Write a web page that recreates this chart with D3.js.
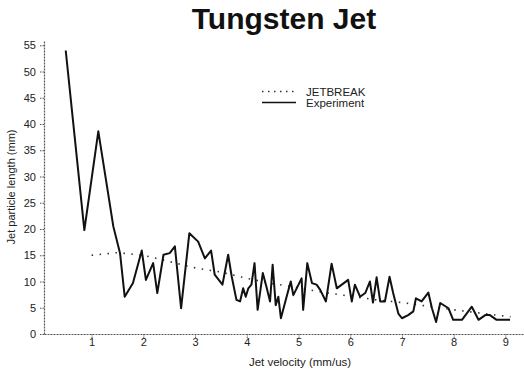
<!DOCTYPE html>
<html><head><meta charset="utf-8">
<script src="https://cdn.jsdelivr.net/npm/d3@7"></script>
<style>body{margin:0;background:#fff}svg{display:block}text{font-family:"Liberation Sans",Arial,sans-serif}</style>
</head><body><svg id="c" width="524" height="372"></svg>
<script>
const xTicks = [1,2,3,4,5,6,7,8,9];
const yTicks = [0,5,10,15,20,25,30,35,40,45,50,55];
const seriesNames = ["JETBREAK","Experiment"];
const expVelocity = [0.50,0.86,1.13,1.42,1.55,1.64,1.80,1.97,2.05,2.19,2.27,2.39,2.51,2.61,2.73,2.89,3.06,3.19,3.31,3.38,3.53,3.64,3.71,3.80,3.87,3.93,3.98,4.03,4.09,4.15,4.21,4.31,4.38,4.45,4.50,4.56,4.61,4.66,4.77,4.85,4.90,5.06,5.09,5.17,5.26,5.35,5.42,5.53,5.64,5.74,5.96,6.03,6.09,6.19,6.29,6.38,6.44,6.51,6.58,6.67,6.76,6.83,6.93,7.00,7.12,7.22,7.27,7.38,7.51,7.58,7.66,7.74,7.90,7.99,8.16,8.35,8.48,8.61,8.70,8.83,9.09];
const expLength = [54,19.8,38.6,20.5,15.4,7.1,9.7,15.9,10.3,13.5,7.8,15.1,15.4,16.7,4.9,19.2,17.6,14.4,15.9,11.3,9.4,15.1,10.9,6.5,6.2,8.7,7.1,8.7,9.4,13.5,4.6,11.6,9.0,6.2,13.2,5.5,7.1,3.0,7.1,10.0,7.4,10.6,4.6,13.5,9.7,9.4,8.4,6.2,13.4,8.7,10.3,6.2,9.4,7.1,7.8,10.0,6.0,10.8,6.2,6.2,10.9,7.8,3.9,3.0,3.6,4.3,6.8,6.2,7.9,4.9,2.3,5.9,4.9,2.7,2.7,5.2,2.7,3.6,3.6,2.7,2.7];
const jbVelocity = [1.0,1.5,2.0,2.5,3.0,3.5,4.0,4.5,5.0,5.5,6.0,6.5,7.0,7.5,8.0,8.5,9.0,9.1];
const jbLength = [15.0,15.5,15.0,13.8,12.6,11.8,10.6,9.6,8.8,7.9,7.2,6.5,6.0,5.3,4.6,4.0,3.4,3.3];

const svg = d3.select("#c");
const x = d3.scaleLinear().domain([0.08, 9.34]).range([44, 523]);
const y = d3.scaleLinear().domain([0, 56]).range([334, 40]);
const axisCol = "#555";

// axes
const gx = svg.append("g").attr("transform","translate(0,334)")
  .call(d3.axisBottom(x).tickValues(xTicks).tickFormat(d3.format("d")).tickSize(4).tickPadding(0).tickSizeOuter(0));
const gy = svg.append("g").attr("transform","translate(44,0)")
  .call(d3.axisLeft(y).tickValues(yTicks).tickSize(4).tickSizeOuter(0));
[gx,gy].forEach(g=>{
  g.select(".domain").attr("stroke",axisCol).attr("stroke-width",1.2).attr("stroke-dasharray","2,1");
  g.selectAll(".tick line").attr("stroke",axisCol).attr("stroke-dasharray","1.5,1");
  g.selectAll(".tick text").attr("fill","#222").style("font-size","11px");
});
gy.selectAll(".tick text").attr("dx","-1px");

// lines
const line = d3.line().x(d=>x(d[0])).y(d=>y(d[1]));
svg.append("path").datum(jbVelocity.map((v,i)=>[v,jbLength[i]]))
  .attr("d",line).attr("fill","none").attr("stroke","#333").attr("stroke-width",1.6)
  .attr("stroke-dasharray","1.5,6.5");
svg.append("path").datum(expVelocity.map((v,i)=>[v,expLength[i]]))
  .attr("d",line).attr("fill","none").attr("stroke","#111").attr("stroke-width",2)
  .attr("stroke-linejoin","round");

// title & labels
svg.append("text").attr("x",284).attr("y",29).attr("text-anchor","middle")
  .style("font-size","30px").style("font-weight","bold").attr("fill","#111").text("Tungsten Jet");
svg.append("text").attr("x",300).attr("y",366).attr("text-anchor","middle")
  .style("font-size","11.5px").attr("fill","#222").text("Jet velocity (mm/us)");
svg.append("text").attr("transform","translate(15,187) rotate(-90)").attr("text-anchor","middle")
  .style("font-size","11px").attr("fill","#222").text("Jet particle length (mm)");

// legend
const lg = svg.append("g");
lg.append("line").attr("x1",262).attr("x2",296).attr("y1",91.5).attr("y2",91.5)
  .attr("stroke","#333").attr("stroke-width",1.6).attr("stroke-dasharray","1.5,4.5");
lg.append("line").attr("x1",262).attr("x2",296).attr("y1",102.5).attr("y2",102.5)
  .attr("stroke","#111").attr("stroke-width",1.4);
lg.append("text").attr("x",306).attr("y",95.5).style("font-size","11.5px").attr("fill","#222").text(seriesNames[0]);
lg.append("text").attr("x",306).attr("y",107).style("font-size","11.5px").attr("fill","#222").text(seriesNames[1]);
</script></body></html>
